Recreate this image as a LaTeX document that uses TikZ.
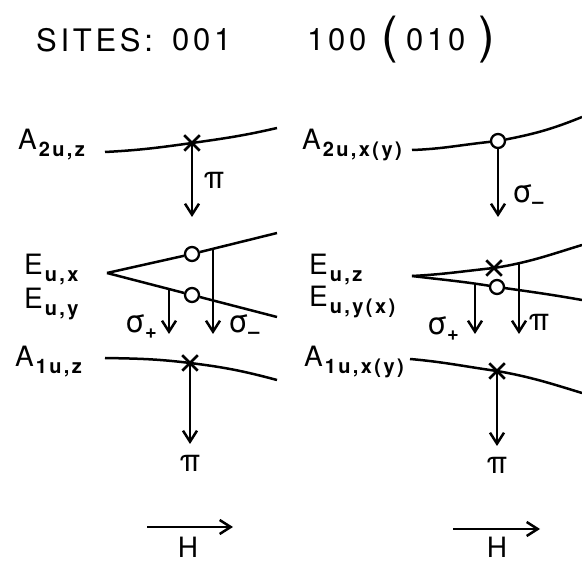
\documentclass[tikz,border=0pt]{standalone}
\usepackage{fontspec}
\setmainfont{TeX Gyre Heros}
\usetikzlibrary{arrows.meta, shapes.misc}

\newcommand{\lev}[2]{#1\kern2pt\raisebox{-7pt}{\fontsize{20}{22}\selectfont\bfseries\addfontfeatures{LetterSpace=12}#2}}
\newcommand{\pol}[2]{#1\raisebox{-6pt}{\fontsize{20}{22}\selectfont\bfseries #2}}

\tikzset{
  level/.style={line width=2.5pt},
  trans/.style={line width=2.1pt, -{Straight Barb[length=11pt,width=14pt,line width=2.5pt]}},
  xmark/.style={cross out, draw, line width=2.5pt, minimum size=13pt, inner sep=0pt},
  omark/.style={circle, draw, fill=white, line width=2.3pt, minimum size=14pt, inner sep=0pt},
  lbl/.style={font=\fontsize{28}{32}\selectfont, inner sep=0pt},
  pol/.style={font=\fontsize{31}{33}\selectfont, inner sep=0pt},
  title/.style={font=\fontsize{31}{36}\selectfont\addfontfeatures{LetterSpace=12}, inner sep=0pt},
  paren/.style={font=\fontsize{50}{54}\selectfont, inner sep=0pt},
}

\begin{document}
\begin{tikzpicture}[x=1pt, y=1pt]
    \useasboundingbox (0,0) rectangle (582,563);

    % Sites
    \node[title, anchor=west] (sites) at (36,523) {SITES:};
    \node[title, anchor=west] (s001) at (172,523) {001};
    \node[title, anchor=west] (s100) at (307,523) {100};
    \node[paren] (lpar) at (390,523) {(};
    \node[title, anchor=west] (s010) at (406,523) {010};
    \node[paren] (rpar) at (487,523) {)};

    % ---- site 001 ----
    % A2u level
    \node[lbl, anchor=base west] (a2l) at (18,413) {\lev{A}{2u,z}};
    \coordinate (a2s) at (105,411);
    \coordinate (a2e) at (277,435);
    \node[xmark] (a2x) at (192,420) {};
    \draw[level] (a2s) to[out=3, in=188] (a2x.center) to[out=8, in=193] (a2e);
    \coordinate (a2t) at (192,346);
    \draw[trans] (a2x.center) -- (a2t);
    \node[pol] (a2p) at (214,383) {π};

    % Eu levels
    \node[lbl, anchor=base west] (exl) at (24,288) {\lev{E}{u,x}};
    \node[lbl, anchor=base west] (eyl) at (24,254) {\lev{E}{u,y}};
    \coordinate (ev) at (107,290);
    \coordinate (exe) at (277,330);
    \coordinate (eye) at (277,246);
    \node[omark] (exo) at (192,309) {};
    \node[omark] (eyo) at (192,268) {};
    \draw[level] (ev) -- (exo) -- (exe);
    \draw[level] (ev) -- (eyo) -- (eye);
    \coordinate (sp1) at (169,274);
    \coordinate (sp1t) at (169,229);
    \coordinate (sm1) at (213,314);
    \coordinate (sm1t) at (213,229);
    \draw[trans] (sp1) -- (sp1t);
    \draw[trans] (sm1) -- (sm1t);
    \node[pol] (sp1l) at (141,236) {\pol{σ}{+}};
    \node[pol] (sm1l) at (244,236) {\pol{σ}{–}};

    % A1u level
    \node[lbl, anchor=base west] (a1l) at (15,196) {\lev{A}{1u,z}};
    \coordinate (a1s) at (105,205);
    \coordinate (a1e) at (277,183);
    \node[xmark] (a1x) at (190,200) {};
    \draw[level] (a1s) to[out=-1, in=173] (a1x.center) to[out=-7, in=165] (a1e);
    \coordinate (a1t) at (190,119);
    \draw[trans] (a1x.center) -- (a1t);
    \node[pol] (a1p) at (190,100) {π};

    % field
    \coordinate (h1s) at (147,36);
    \coordinate (h1e) at (233,36);
    \draw[trans] (h1s) -- (h1e);
    \node[lbl] (h1) at (188,16) {H};

    % ---- site 100 (010) ----
    % A2u level
    \node[lbl, anchor=base west] (b2l) at (302,413) {\lev{A}{2u,x(y)}};
    \coordinate (b2s) at (412,413);
    \coordinate (b2e) at (582,446);
    \node[omark] (b2o) at (498,422) {};
    \draw[level] (b2s) to[out=2, in=186] (b2o) to[out=11, in=202] (b2e);
    \coordinate (b2t) at (498,346);
    \draw[trans] (b2o) -- (b2t);
    \node[pol] (b2p) at (528,366) {\pol{σ}{–}};

    % Eu levels
    \node[lbl, anchor=base west] (ezl) at (309,288) {\lev{E}{u,z}};
    \node[lbl, anchor=base west] (eyxl) at (309,256) {\lev{E}{u,y(x)}};
    \coordinate (fv) at (412,287);
    \coordinate (fze) at (582,318);
    \coordinate (fye) at (582,263);
    \node[xmark] (fzx) at (494,295) {};
    \node[omark] (fyo) at (497,276) {};
    \draw[level] (fv) to[out=3, in=186] (fzx.center) to[out=9, in=197] (fze);
    \draw[level] (fv) to[out=-7, in=171] (fyo) to[out=-8, in=170] (fye);
    \coordinate (sp2) at (475,279);
    \coordinate (sp2t) at (475,229);
    \coordinate (pi2) at (519,300);
    \coordinate (pi2t) at (519,229);
    \draw[trans] (sp2) -- (sp2t);
    \draw[trans] (pi2) -- (pi2t);
    \node[pol] (sp2l) at (443,234) {\pol{σ}{+}};
    \node[pol] (pi2l) at (539,241) {π};

    % A1u level
    \node[lbl, anchor=base west] (b1l) at (304,196) {\lev{A}{1u,x(y)}};
    \coordinate (b1s) at (410,204);
    \coordinate (b1e) at (582,170);
    \node[xmark] (b1x) at (497,192) {};
    \draw[level] (b1s) to[out=-5, in=172] (b1x.center) to[out=-10, in=163] (b1e);
    \coordinate (b1t) at (497,117);
    \draw[trans] (b1x.center) -- (b1t);
    \node[pol] (b1p) at (497,98) {π};

    % field
    \coordinate (h2s) at (453,34);
    \coordinate (h2e) at (540,34);
    \draw[trans] (h2s) -- (h2e);
    \node[lbl] (h2) at (497,16) {H};
\end{tikzpicture}
\end{document}
